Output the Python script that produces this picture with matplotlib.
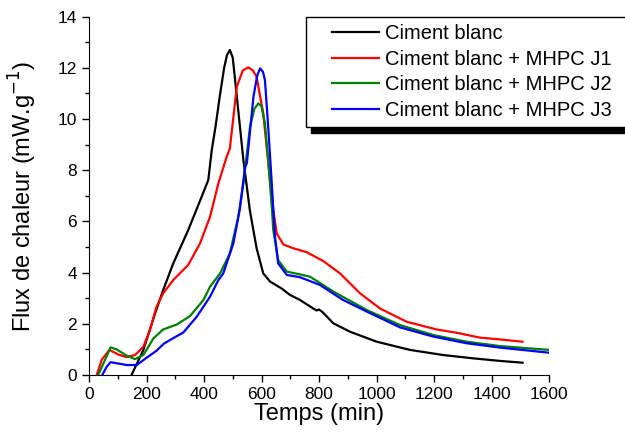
import matplotlib
matplotlib.use("Agg")
import matplotlib.pyplot as plt
from matplotlib.ticker import MultipleLocator
from matplotlib.legend_handler import HandlerLine2D

# Ciment blanc
t_cb = [148, 189, 230, 258, 293, 345, 392, 415, 427, 440, 455, 470, 480, 490, 500, 514,
        537, 560, 583, 606, 630, 670, 699, 734, 780, 792, 800, 812, 850, 908, 1001,
        1117, 1232, 1337, 1430, 1508]
q_cb = [0.0, 0.98, 2.41, 3.32, 4.36, 5.66, 6.97, 7.62, 8.79, 9.7, 10.9, 12.0, 12.5, 12.7, 12.4, 10.9,
        8.4, 6.4, 4.95, 3.97, 3.65, 3.38, 3.13, 2.93, 2.6, 2.52, 2.56, 2.46, 2.02, 1.69, 1.3,
        0.98, 0.78, 0.65, 0.55, 0.48]

# Ciment blanc + MHPC J1
t_j1 = [27, 44, 71, 102, 131, 160, 189, 212, 235, 258, 293, 345, 386, 421, 450, 479,
        490, 514, 535, 554, 570, 583, 606, 630, 641, 653, 676, 711, 757, 815, 873, 943,
        1012, 1105, 1209, 1279, 1360, 1430, 1508]
q_j1 = [0.0, 0.59, 0.98, 0.8, 0.7, 0.78, 1.1, 1.76, 2.67, 3.19, 3.71, 4.3, 5.14, 6.18, 7.49, 8.53,
        8.85, 11.26, 11.9, 12.02, 11.9, 11.65, 10.22, 7.6, 6.45, 5.53, 5.1, 4.95, 4.8, 4.45, 3.97, 3.19,
        2.6, 2.08, 1.78, 1.65, 1.46, 1.39, 1.3]

# Ciment blanc + MHPC J2
t_j2 = [32, 44, 62, 75, 96, 131, 160, 189, 224, 258, 305, 351, 398, 421, 456, 490,
        519, 537, 560, 575, 589, 600, 612, 624, 635, 641, 658, 688, 734, 769, 850, 966,
        1082, 1198, 1314, 1430, 1601]
q_j2 = [0.0, 0.3, 0.75, 1.08, 1.0, 0.76, 0.62, 0.78, 1.43, 1.78, 1.97, 2.3, 2.93, 3.45, 3.97, 4.75,
        6.18, 7.49, 9.7, 10.4, 10.61, 10.5, 9.83, 8.27, 6.7, 5.66, 4.49, 4.04, 3.93, 3.84, 3.26, 2.54,
        1.95, 1.56, 1.3, 1.13, 0.98]

# Ciment blanc + MHPC J3
t_j3 = [46, 62, 75, 96, 131, 166, 201, 235, 260, 282, 328, 375, 421, 450, 467,
        502, 525, 543, 549, 572, 585, 595, 605, 612, 624, 635, 641, 647, 658, 688, 734,
        803, 884, 966, 1082, 1198, 1314, 1430, 1601]
q_j3 = [0.0, 0.33, 0.5, 0.46, 0.39, 0.39, 0.68, 0.95, 1.22, 1.37, 1.66, 2.28, 3.06, 3.71, 3.97,
        5.14, 6.5, 8.14, 8.27, 10.87, 11.7, 11.98, 11.85, 11.52, 9.57, 7.62, 6.45, 5.4, 4.36, 3.91, 3.82,
        3.52, 2.93, 2.48, 1.86, 1.5, 1.24, 1.07, 0.87]

labels = ["Ciment blanc", "Ciment blanc + MHPC J1",
          "Ciment blanc + MHPC J2", "Ciment blanc + MHPC J3"]
colors = ["black", "#ff0000", "#008000", "#0000ff"]

plt.rcParams["font.family"] = ["Liberation Sans", "DejaVu Sans"]

fig = plt.figure(figsize=(6.25, 4.44), dpi=100)
ax = fig.add_axes([0.1424, 0.1554, 0.736, 0.807])

series = [(t_cb, q_cb), (t_j1, q_j1), (t_j2, q_j2), (t_j3, q_j3)]
for (t, q), lab, c in zip(series, labels, colors):
    ax.plot(t, q, color=c, lw=1.6, label=lab)

ax.set_xlim(0, 1600)
ax.set_ylim(0, 14)
ax.xaxis.set_major_locator(MultipleLocator(200))
ax.xaxis.set_minor_locator(MultipleLocator(100))
ax.yaxis.set_major_locator(MultipleLocator(2))
ax.yaxis.set_minor_locator(MultipleLocator(1))
ax.tick_params(which="major", direction="out", length=5, width=1, labelsize=12.5,
               colors="black", pad=3.5)
ax.tick_params(which="minor", direction="out", length=3, width=1)

ax.spines["top"].set_visible(False)
ax.spines["right"].set_visible(False)

ax.set_xlabel("Temps (min)", fontsize=17, labelpad=1)
ax.set_ylabel("Flux de chaleur (mW.g$^{-1}$)", fontsize=17)
ax.yaxis.set_label_coords(-0.108, 0.5)

# handle line starts further inside the frame
hmap = {ln: HandlerLine2D(xpad=0.95) for ln in ax.get_lines()}
leg = ax.legend(loc="upper left", bbox_to_anchor=(0.472, 0.0, 0.72, 1.0), mode="expand",
                borderaxespad=0, fontsize=14.5, frameon=True, fancybox=False,
                handlelength=3.25, handletextpad=0.3, labelspacing=0.34, borderpad=0.35,
                handler_map=hmap,
                shadow={"ox": 3.6, "oy": -4.3, "facecolor": "black", "edgecolor": "black", "alpha": 1})
leg.get_frame().set_edgecolor("black")
leg.get_frame().set_linewidth(1)

fig.savefig("out.png", dpi=100)
